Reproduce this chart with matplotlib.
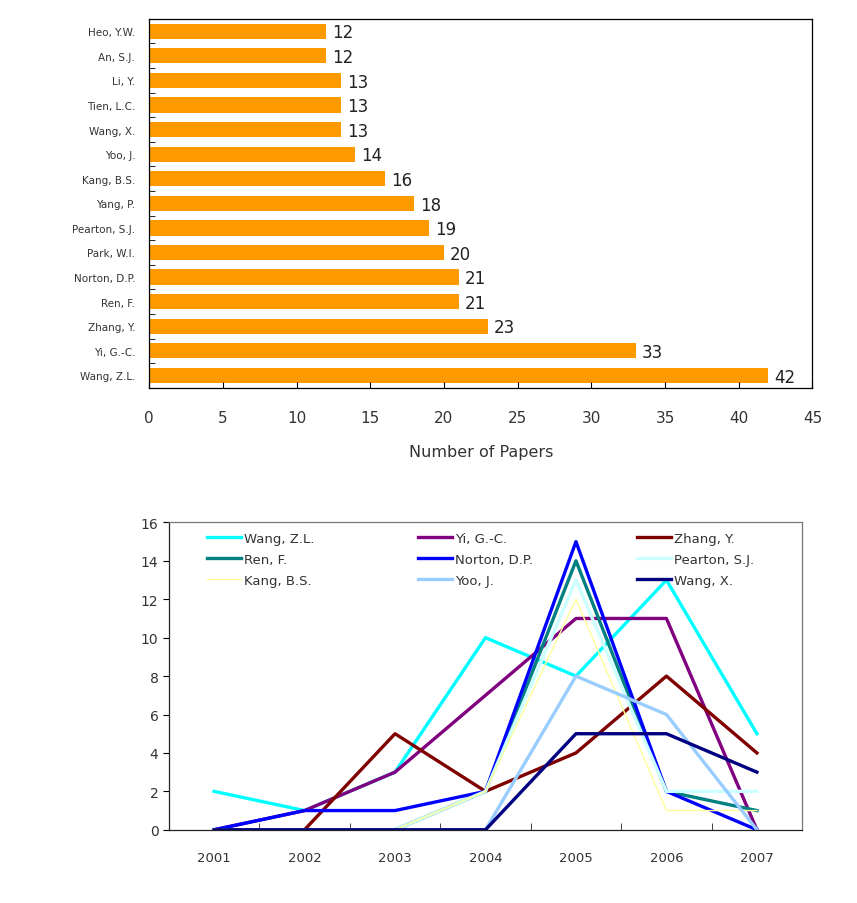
import numpy as np
import matplotlib
matplotlib.use("Agg")
from matplotlib import pyplot as plt

# top chart: papers per author
authors = ["Wang, Z.L.", "Yi, G.-C.", "Zhang, Y.", "Ren, F.", "Norton, D.P.",
           "Park, W.I.", "Pearton, S.J.", "Yang, P.", "Kang, B.S.", "Yoo, J.",
           "Wang, X.", "Tien, L.C.", "Li, Y.", "An, S.J.", "Heo, Y.W."]
papers = [42, 33, 23, 21, 21, 20, 19, 18, 16, 14, 13, 13, 13, 12, 12]

# bottom chart: papers per year
years = ["2001", "2002", "2003", "2004", "2005", "2006", "2007"]
nan = np.nan
wang_zl = [2, 1, 3, 10, 8, 13, 5]
yi_gc = [0, 1, 3, 7, 11, 11, 0]
zhang_y = [0, 0, 5, 2, 4, 8, 4]
ren_f = [0, 0, 0, 2, 14, 2, 1]
norton_dp = [0, 1, 1, 2, 15, 2, 0]
pearton_sj = [0, 0, 0, 2, 13, 2, 2]
kang_bs = [nan, nan, 0, 2, 12, 1, 1]
yoo_j = [0, 0, 0, 0, 8, 6, 0]
wang_x = [0, 0, 0, 0, 5, 5, 3]

series = [
    ("Wang, Z.L.", wang_zl, "#00FFFF", 2.4),
    ("Yi, G.-C.", yi_gc, "#800080", 2.4),
    ("Zhang, Y.", zhang_y, "#800000", 2.4),
    ("Ren, F.", ren_f, "#008080", 2.4),
    ("Norton, D.P.", norton_dp, "#0000FF", 2.4),
    ("Pearton, S.J.", pearton_sj, "#CCFFFF", 2.4),
    ("Kang, B.S.", kang_bs, "#FFFF99", 1.0),
    ("Yoo, J.", yoo_j, "#99CCFF", 2.4),
    ("Wang, X.", wang_x, "#000080", 2.4),
]

plt.rcParams['font.family'] = ['DejaVu Sans']
txt = "#333333"

fig = plt.figure(figsize=(8.57, 9.04), dpi=100)

# ---- bar chart
ax1 = fig.add_axes([0.174, 0.570, 0.774, 0.408])
ypos = np.arange(len(authors))
ax1.barh(ypos, papers, height=0.62, color="#FF9900")
for y, v in zip(ypos, papers):
    ax1.text(v + 0.4, y - 0.05, str(v), va="center", ha="left", fontsize=12, color="#222222")
ax1.set_xlim(0, 45)
ax1.set_ylim(-0.5, len(authors) - 0.5)
ax1.set_xticks(np.arange(0, 46, 5))
ax1.set_xticklabels([str(t) for t in range(0, 46, 5)], fontsize=11, color=txt)
ax1.set_yticks(ypos)
ax1.set_yticklabels(authors, fontsize=7.5, color=txt)
ax1.tick_params(axis="y", length=0, pad=10)
ax1.set_yticks(ypos[:-1] + 0.5, minor=True)
ax1.tick_params(axis="y", which="minor", direction="in", length=4)
ax1.tick_params(axis="x", direction="in", length=4, pad=16)
ax1.set_xlabel("Number of Papers", fontsize=11.5, color=txt, labelpad=14)
for s in ax1.spines.values():
    s.set_linewidth(0.9)

# ---- line chart
ax2 = fig.add_axes([0.197, 0.081, 0.739, 0.340])
x = np.arange(len(years))
handles = {}
for name, vals, col, lw in series:
    h, = ax2.plot(x, vals, color=col, lw=lw, label=name)
    handles[name] = h
ax2.set_xlim(-0.5, len(years) - 0.5)
ax2.set_ylim(0, 16)
ax2.set_yticks(np.arange(0, 17, 2))
ax2.set_yticklabels([str(t) for t in range(0, 17, 2)], fontsize=10, color=txt)
ax2.set_xticks(x)
ax2.set_xticklabels(years, fontsize=9.5, color=txt)
ax2.tick_params(axis="x", which="major", length=0, pad=15)
ax2.set_xticks(x[:-1] + 0.5, minor=True)
ax2.tick_params(axis="x", which="minor", direction="in", length=5, color="#222222")
ax2.tick_params(axis="y", direction="out", length=4)
for s in ax2.spines.values():
    s.set_color("#777777")
    s.set_linewidth(0.9)
ax2.spines["left"].set_color("#222222")
ax2.spines["bottom"].set_color("#222222")

order = ["Wang, Z.L.", "Ren, F.", "Kang, B.S.",
         "Yi, G.-C.", "Norton, D.P.", "Yoo, J.",
         "Zhang, Y.", "Pearton, S.J.", "Wang, X."]
leg = ax2.legend([handles[n] for n in order], order, ncol=3, frameon=False,
                 loc="upper left", bbox_to_anchor=(0.045, 1.0), fontsize=9.5,
                 handlelength=2.6, handletextpad=0.2, columnspacing=7.9,
                 labelspacing=0.62, borderaxespad=0.3)
for t in leg.get_texts():
    t.set_color(txt)

fig.savefig("out.png", dpi=100)
